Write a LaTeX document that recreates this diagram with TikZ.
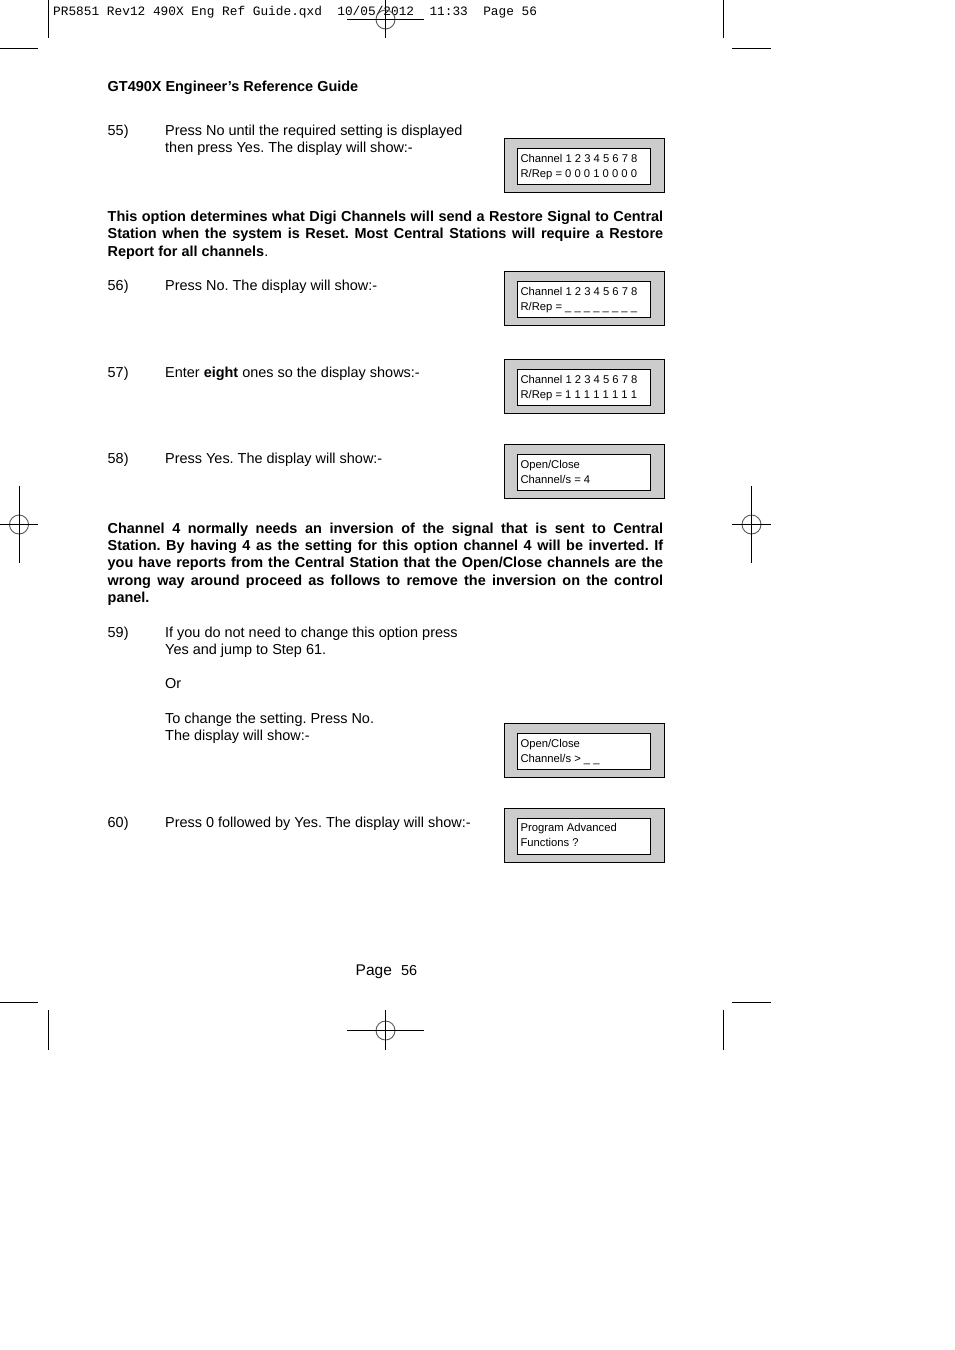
\documentclass[tikz,border=0pt]{standalone}
\usepackage{fontspec}
\setmainfont{Liberation Sans}
\newfontfamily\hdrfont{Liberation Mono}
\frenchspacing
\definecolor{lcdgrey}{gray}{0.8}
\tikzset{
  x=1pt,y=-1pt,
  body/.style={anchor=base west,inner sep=0pt,font=\fontsize{14.45}{17}\selectfont},
  bodyb/.style={body,font=\fontsize{14.45}{17}\selectfont\bfseries},
  lcdtxt/.style={anchor=base west,inner sep=0pt,font=\fontsize{11.25}{13}\selectfont},
  lcdouter/.style={draw=black,line width=1pt,fill=lcdgrey,minimum width=160pt,minimum height=54pt,inner sep=0pt,outer sep=0pt,anchor=north west},
  lcdinner/.style={draw=black,line width=1pt,fill=white,minimum width=133.5pt,minimum height=36pt,inner sep=0pt,outer sep=0pt,anchor=north west},
  crop/.style={draw=black,line width=1pt},
  reg/.style={draw=black!65,line width=0.9pt,circle,minimum size=19pt,inner sep=0pt}
}
\newcommand{\jline}[3]{\node[bodyb] (#1) at (107.5,#2) {\makebox[555.5pt][s]{#3}};}
\newcommand{\lcd}[4]{%
  \node[lcdouter] (#1o) at (504.5,#2) {};
  \node[lcdinner] (#1i) at (517,#2+10) {};
  \node[lcdtxt] (#1a) at (520.3,#2+23.7) {#3};
  \node[lcdtxt] (#1b) at (520.3,#2+38.7) {#4};}
\begin{document}
\begin{tikzpicture}
\useasboundingbox (0,0) rectangle (954,1350);
% slug
\node[anchor=base west,inner sep=0pt,font=\hdrfont\fontsize{12.8}{14}\selectfont] (slug) at (53,15) {PR5851 Rev12 490X Eng Ref Guide.qxd\ \ 10/05/2012\ \ 11:33\ \ Page 56};
% crop marks
\draw[crop] (48,0) -- (48,38);
\draw[crop] (0,48) -- (38,48);
\draw[crop] (723.5,0) -- (723.5,38);
\draw[crop] (732,48) -- (771,48);
\draw[crop] (0,1002) -- (38,1002);
\draw[crop] (48,1010) -- (48,1050);
\draw[crop] (732,1002) -- (771,1002);
\draw[crop] (723.5,1010) -- (723.5,1050);
% registration marks
\node[reg] (regT) at (385.5,19.5) {};
\draw[crop] (347,19.5) -- (424,19.5);
\draw[crop] (385.5,0) -- (385.5,38);
\node[reg] (regL) at (19,524.5) {};
\draw[crop] (0,524.5) -- (38,524.5);
\draw[crop] (19,486) -- (19,562.5);
\node[reg] (regR) at (751.5,524.5) {};
\draw[crop] (732,524.5) -- (771,524.5);
\draw[crop] (751.5,486) -- (751.5,562.5);
\node[reg] (regB) at (385.5,1030.5) {};
\draw[crop] (347,1030.5) -- (424,1030.5);
\draw[crop] (385.5,1010) -- (385.5,1050);
% heading
\node[bodyb] (head) at (107.5,91) {GT490X Engineer’s Reference Guide};
% step 55
\node[body] (n55) at (107.5,135) {55)};
\node[body] (t55a) at (165,135) {Press No until the required setting is displayed};
\node[body] (t55b) at (165,152) {then press Yes. The display will show:-};
\lcd{a}{138.5}{Channel 1 2 3 4 5 6 7 8}{R/Rep = 0 0 0 1 0 0 0 0}
% note 1
\jline{pa}{221}{This option determines what Digi Channels will send a Restore Signal to Central}
\jline{pb}{238}{Station when the system is Reset. Most Central Stations will require a Restore}
\node[bodyb] (pc) at (107.5,256) {Report for all channels\textmd{.}};
% step 56
\node[body] (n56) at (107.5,290) {56)};
\node[body] (t56) at (165,290) {Press No. The display will show:-};
\lcd{b}{271.5}{Channel 1 2 3 4 5 6 7 8}{R/Rep = \_ \_ \_ \_ \_ \_ \_ \_}
% step 57
\node[body] (n57) at (107.5,377) {57)};
\node[body] (t57) at (165,377) {Enter \textbf{eight} ones so the display shows:-};
\lcd{c}{359.5}{Channel 1 2 3 4 5 6 7 8}{R/Rep = 1 1 1 1 1 1 1 1}
% step 58
\node[body] (n58) at (107.5,463) {58)};
\node[body] (t58) at (165,463) {Press Yes. The display will show:-};
\lcd{d}{444.5}{Open/Close}{Channel/s = 4}
% note 2
\jline{qa}{533}{Channel 4 normally needs an inversion of the signal that is sent to Central}
\jline{qb}{550}{Station. By having 4 as the setting for this option channel 4 will be inverted. If}
\jline{qc}{567}{you have reports from the Central Station that the Open/Close channels are the}
\jline{qd}{585}{wrong way around proceed as follows to remove the inversion on the control}
\node[bodyb] (qe) at (107.5,602) {panel.};
% step 59
\node[body] (n59) at (107.5,637) {59)};
\node[body] (t59a) at (165,637) {If you do not need to change this option press};
\node[body] (t59b) at (165,654) {Yes and jump to Step 61.};
\node[body] (t59c) at (165,688) {Or};
\node[body] (t59d) at (165,723) {To change the setting. Press No.};
\node[body] (t59e) at (165,740) {The display will show:-};
\lcd{e}{723.5}{Open/Close}{Channel/s > \_ \_}
% step 60
\node[body] (n60) at (107.5,827) {60)};
\node[body] (t60) at (165,827) {Press 0 followed by Yes. The display will show:-};
\lcd{f}{808}{Program Advanced}{Functions ?}
% folio
\node[body,font=\fontsize{15.5}{18}\selectfont] (pg) at (355.5,975) {Page};
\node[body] (pgn) at (401,975) {56};
\end{tikzpicture}
\end{document}
